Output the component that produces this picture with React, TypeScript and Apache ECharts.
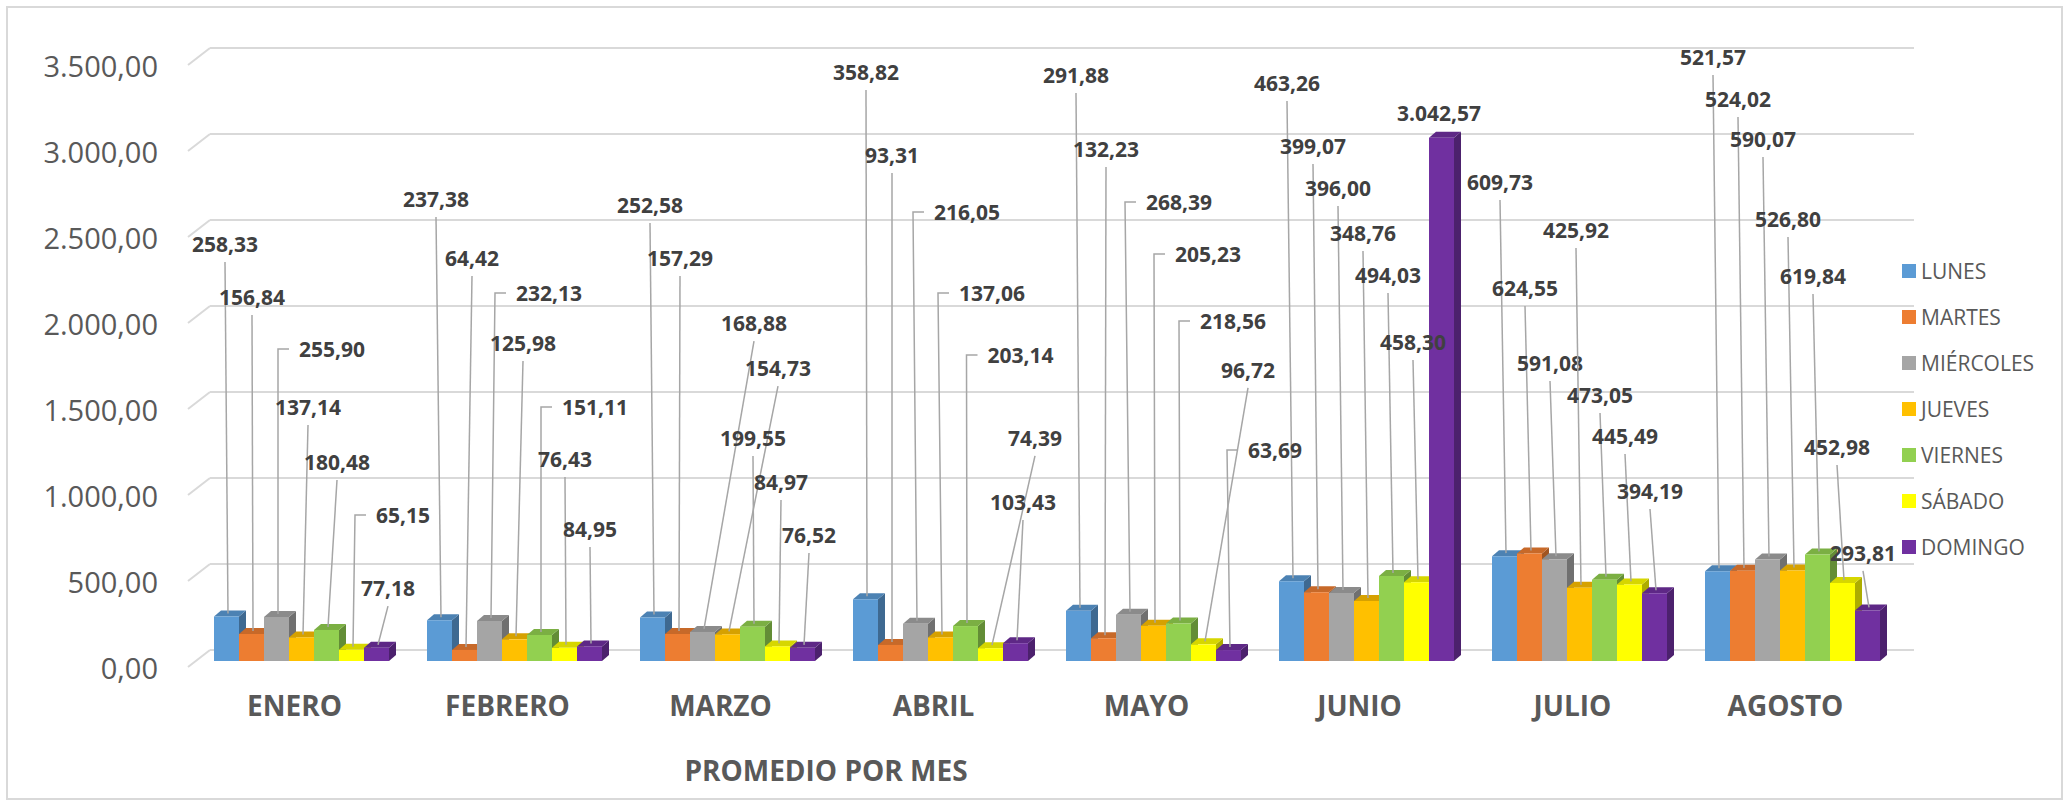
import React, { useEffect, useRef } from "react";
import * as echarts from "echarts";

// ---------- data ----------
const months = ["ENERO", "FEBRERO", "MARZO", "ABRIL", "MAYO", "JUNIO", "JULIO", "AGOSTO"];
const days = ["LUNES", "MARTES", "MIÉRCOLES", "JUEVES", "VIERNES", "SÁBADO", "DOMINGO"];
const lunes = [258.33, 237.38, 252.58, 358.82, 291.88, 463.26, 609.73, 521.57];
const martes = [156.84, 64.42, 157.29, 93.31, 132.23, 399.07, 624.55, 524.02];
const miercoles = [255.9, 232.13, 168.88, 216.05, 268.39, 396.0, 591.08, 590.07];
const jueves = [137.14, 125.98, 154.73, 137.06, 205.23, 348.76, 425.92, 526.8];
const viernes = [180.48, 151.11, 199.55, 203.14, 218.56, 494.03, 473.05, 619.84];
const sabado = [65.15, 76.43, 84.97, 74.39, 96.72, 458.3, 445.49, 452.98];
const domingo = [77.18, 84.95, 76.52, 103.43, 63.69, 3042.57, 394.19, 293.81];
const yTicks = [0, 500, 1000, 1500, 2000, 2500, 3000, 3500];

// ---------- label layout (moved data labels, in axis units / px offsets) ----------
const labelLevel = [
  [2424, 2686, 2651, 3424, 3407, 3360, 2785, 3512],
  [2116, 2343, 2343, 2942, 2977, 2994, 2169, 3267],
  [1814, 2140, 1965, 2610, 2669, 2750, 1733, 3035],
  [1477, 1849, 1703, 2140, 2366, 2488, 2506, 2570],
  [1157, 1477, 1297, 1779, 1977, 2244, 1547, 2238],
  [849, 1174, 1041, 1297, 1692, 1855, 1308, 1244],
  [424, 767, 733, 924, 1227, 3186, 988, 628],
];
const labelDx = [
  [-1.5, -3.5, -2.5, 0.5, -2.5, -4.5, -4.5, -4.5],
  [0.5, 7.5, 2.5, 1.5, 2.5, -3.5, -4.5, -4.5],
  [1.5, 5.5, 51.5, -2.5, -3.5, -3.5, -4.5, -4.5],
  [6.5, 8.5, 50.5, -2.5, 0.5, -3.5, -3.5, -4.5],
  [10.5, 1.5, 0.5, 1, 0.5, -3.5, -4.5, -4.5],
  [3.5, 0.5, 3.5, 44.5, 44.5, -3.5, -4.5, -5.5],
  [11.5, 0.5, 6.5, 7.5, -1.5, -2.5, -4.5, -4.5],
];
// 1 = label above with leader line, 2 = label right of a hooked leader, 0 = no leader
const labelMode = [
  [1, 1, 1, 1, 1, 1, 1, 1],
  [1, 1, 1, 1, 1, 1, 1, 1],
  [2, 2, 1, 2, 2, 1, 1, 1],
  [1, 1, 1, 2, 2, 1, 1, 1],
  [1, 2, 1, 2, 2, 1, 1, 1],
  [2, 1, 1, 1, 1, 1, 1, 1],
  [1, 1, 1, 1, 2, 0, 1, 1],
];

const seriesValues = [lunes, martes, miercoles, jueves, viernes, sabado, domingo];
const colors = ["#5B9BD5", "#ED7D31", "#A5A5A5", "#FFC000", "#92D050", "#FFFF00", "#7030A0"];

const FONT = "'Open Sans', 'DejaVu Sans', sans-serif";
const BAR_FRAC = 25 / 213;
const DEPTH_X = 7;
const DEPTH_Y = -6;

function fmt(v: number): string {
  const [i, d] = v.toFixed(2).split(".");
  return i.replace(/\B(?=(\d{3})+(?!\d))/g, ".") + "," + d;
}

function shade(hex: string, f: number): string {
  const n = parseInt(hex.slice(1), 16);
  const r = Math.round(((n >> 16) & 255) * f);
  const g = Math.round(((n >> 8) & 255) * f);
  const b = Math.round((n & 255) * f);
  return `rgb(${r},${g},${b})`;
}

function barSeries(dayIdx: number): any {
  const color = colors[dayIdx];
  return {
    type: "custom",
    name: days[dayIdx],
    xAxisIndex: 0,
    yAxisIndex: 0,
    z: 2,
    itemStyle: { color },
    data: seriesValues[dayIdx].map((v, i) => [i, v]),
    renderItem: (params: any, api: any) => {
      const m = api.value(0);
      const v = api.value(1);
      const band = api.size([1, 0])[0];
      const bw = band * BAR_FRAC;
      const base = api.coord([m, 0]);
      const top = api.coord([m, v]);
      const L = base[0] - 3.5 * bw + dayIdx * bw;
      const R = L + bw;
      const B = base[1];
      const T = top[1];
      return {
        type: "group",
        children: [
          {
            type: "polygon",
            shape: { points: [[R, B], [R + DEPTH_X, B + DEPTH_Y], [R + DEPTH_X, T + DEPTH_Y], [R, T]] },
            style: { fill: shade(color, 0.68) },
          },
          {
            type: "polygon",
            shape: { points: [[L, T], [L + DEPTH_X, T + DEPTH_Y], [R + DEPTH_X, T + DEPTH_Y], [R, T]] },
            style: { fill: shade(color, 0.84) },
          },
          {
            type: "rect",
            shape: { x: L, y: T, width: bw, height: B - T },
            style: { fill: color },
          },
        ],
      };
    },
  };
}

function labelSeries(): any {
  const data: number[][] = [];
  for (let d = 0; d < days.length; d++) {
    for (let m = 0; m < months.length; m++) {
      data.push([m, seriesValues[d][m], labelLevel[d][m], labelDx[d][m], labelMode[d][m], d]);
    }
  }
  return {
    type: "custom",
    name: "labels",
    xAxisIndex: 0,
    yAxisIndex: 0,
    z: 10,
    silent: true,
    data,
    renderItem: (params: any, api: any) => {
      const m = api.value(0);
      const v = api.value(1);
      const lvl = api.value(2);
      const dx = api.value(3);
      const mode = api.value(4);
      const d = api.value(5);
      const band = api.size([1, 0])[0];
      const bw = band * BAR_FRAC;
      const base = api.coord([m, 0]);
      const top = api.coord([m, v]);
      const barCx = base[0] - 3.5 * bw + (d + 0.5) * bw;
      const ly = api.coord([m, lvl])[1];
      const endX = barCx + 1.5;
      const endY = top[1] - 3;
      const textStyle = {
        text: fmt(v),
        fontFamily: FONT,
        fontWeight: "bold",
        fontSize: 21,
        fill: "#404040",
        verticalAlign: "middle",
      };
      const lineStyle = { stroke: "#A6A6A6", lineWidth: 1.5, fill: "none" };
      const children: any[] = [];
      if (mode === 2) {
        const hx = barCx + dx;
        children.push({
          type: "polyline",
          shape: { points: [[hx + 11, ly], [hx, ly], [endX, endY]] },
          style: lineStyle,
        });
        children.push({ type: "text", x: hx + 21, y: ly, style: { ...textStyle, align: "left" } });
      } else {
        const lx = barCx + dx;
        if (mode === 1 && ly + 18 < endY) {
          children.push({
            type: "line",
            shape: { x1: lx, y1: ly + 18, x2: endX, y2: endY },
            style: lineStyle,
          });
        }
        children.push({ type: "text", x: lx, y: ly, style: { ...textStyle, align: "center" } });
      }
      return { type: "group", children };
    },
  };
}

function tickStubSeries(): any {
  return {
    type: "custom",
    name: "stubs",
    xAxisIndex: 1,
    yAxisIndex: 1,
    z: 1,
    silent: true,
    data: yTicks.map((t) => [0, t]),
    renderItem: (params: any, api: any) => {
      const p = api.coord([0, api.value(1)]);
      return {
        type: "line",
        shape: { x1: p[0], y1: p[1], x2: p[0] - 22, y2: p[1] + 17 },
        style: { stroke: "#D9D9D9", lineWidth: 2 },
      };
    },
  };
}

export default function App() {
  const ref = useRef<HTMLDivElement>(null);
  useEffect(() => {
    document.body.style.margin = "0";
    if (!ref.current) return;
    const chart = echarts.init(ref.current, undefined, { renderer: "svg" });
    const option: any = {
      animation: false,
      backgroundColor: "#FFFFFF",
      grid: [
        { left: 195, top: 59, width: 1704, height: 602, outerBoundsMode: "none", containLabel: false },
        { left: 210, top: 48, width: 1704, height: 602, outerBoundsMode: "none", containLabel: false },
        { left: 188, top: 65, width: 1704, height: 602, outerBoundsMode: "none", containLabel: false },
      ],
      xAxis: [
        {
          gridIndex: 0,
          type: "category",
          data: months,
          axisLine: { show: false },
          axisTick: { show: false },
          splitLine: { show: false },
          axisLabel: {
            fontFamily: FONT,
            fontWeight: "bold",
            fontSize: 28,
            color: "#595959",
            margin: 30,
            lineHeight: 28,
            padding: [0, 14, 0, 0],
          },
        },
        { gridIndex: 1, type: "value", min: 0, max: 1, show: false },
        { gridIndex: 2, type: "value", min: 0, max: 1, show: false },
      ],
      yAxis: [
        { gridIndex: 0, type: "value", min: 0, max: 3500, interval: 500, show: false },
        {
          gridIndex: 1,
          type: "value",
          min: 0,
          max: 3500,
          interval: 500,
          axisLine: { show: false },
          axisTick: { show: false },
          axisLabel: { show: false },
          splitLine: { show: true, lineStyle: { color: "#D9D9D9", width: 2 } },
        },
        {
          gridIndex: 2,
          type: "value",
          min: 0,
          max: 3500,
          interval: 500,
          axisLine: { show: false },
          axisTick: { show: false },
          splitLine: { show: false },
          axisLabel: {
            fontFamily: FONT,
            fontSize: 29,
            color: "#595959",
            margin: 30,
            formatter: (v: number) => fmt(v),
          },
        },
      ],
      legend: {
        orient: "vertical",
        left: 1902,
        top: 260,
        padding: 0,
        itemWidth: 14,
        itemHeight: 14,
        itemGap: 24,
        icon: "rect",
        data: days,
        selectedMode: false,
        textStyle: { fontFamily: FONT, fontSize: 21, color: "#595959", lineHeight: 22 },
      },
      graphic: [
        {
          type: "rect",
          silent: true,
          shape: { x: 7, y: 7, width: 2055, height: 792 },
          style: { fill: "none", stroke: "#D9D9D9", lineWidth: 2 },
        },
        {
          type: "text",
          silent: true,
          x: 826,
          y: 770,
          style: {
            text: "PROMEDIO POR MES",
            fontFamily: FONT,
            fontWeight: "bold",
            fontSize: 28,
            fill: "#595959",
            align: "center",
            verticalAlign: "middle",
          },
        },
      ],
      series: [
        tickStubSeries(),
        ...days.map((_, i) => barSeries(i)),
        labelSeries(),
      ],
    };
    chart.setOption(option);
    return () => chart.dispose();
  }, []);
  return <div ref={ref} style={{ width: "2067px", height: "806px" }} />;
}
